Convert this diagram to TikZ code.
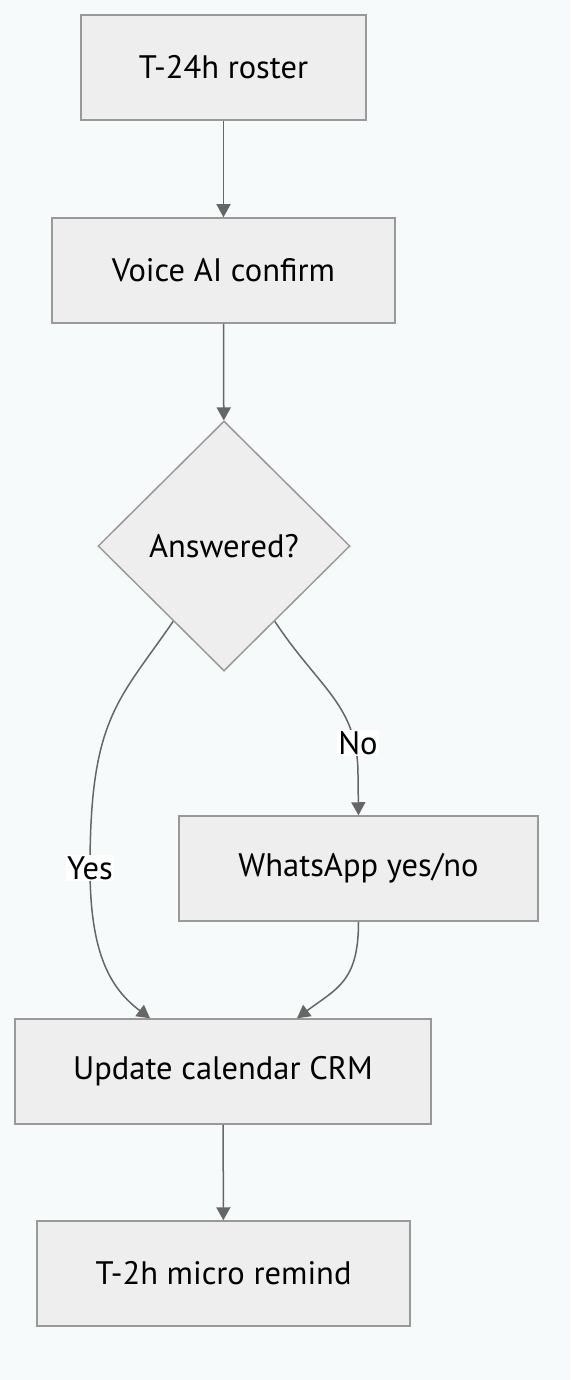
\documentclass[tikz,border=0pt]{standalone}
\usepackage{fontspec}
\setmainfont{PT Sans}
\usetikzlibrary{arrows.meta,shapes.geometric}
\definecolor{bgpage}{HTML}{F7FAFB}
\definecolor{boxfill}{HTML}{EEEEEE}
\definecolor{boxline}{HTML}{999999}
\definecolor{flowline}{HTML}{666666}

\begin{document}
\begin{tikzpicture}[x=1pt, y=-1pt,
	stepbox/.style = {draw=boxline, fill=boxfill, line width=1.5pt, minimum height=105pt, inner sep=0pt, font=\fontsize{32.5}{38}\selectfont},
	decision/.style = {diamond, draw=boxline, fill=boxfill, line width=1.5pt, minimum width=252pt, minimum height=250pt, inner sep=0pt, font=\fontsize{32.5}{38}\selectfont},
	flow/.style = {draw=flowline, line width=1.5pt, -{Triangle[length=13pt, width=14pt]}},
	lbl/.style = {fill=white, inner sep=1pt, font=\fontsize{32.5}{38}\selectfont}]
	\fill[bgpage] (0,0) rectangle (570,1380);
	\useasboundingbox (0,0) rectangle (570,1380);
	\node[stepbox, minimum width=285pt] (roster) at (223.5,67.5) {T-24h roster};
	\node[stepbox, minimum width=343pt] (voice) at (223.5,270.5) {Voice AI confirm};
	\node[decision] (answered) at (224,546) {Answered?};
	\node[stepbox, minimum width=359pt] (whatsapp) at (358.5,868.5) {WhatsApp yes/no};
	\node[stepbox, minimum width=416pt] (update) at (223,1071.5) {Update calendar CRM};
	\node[stepbox, minimum width=373pt] (remind) at (223.5,1273.5) {T-2h micro remind};
	\coordinate (yespt) at (90,868);
	\coordinate (nopt) at (358,775);
	\draw[flow] (roster) -- (voice);
	\draw[flow] (voice) -- (answered);
	\draw[flow] (answered.-124) .. controls +(-55,80) and +(0,-150) .. (yespt) .. controls +(0,85) and +(-40,-30) .. ([xshift=-73pt]update.north);
	\draw[flow] (answered.-56) .. controls +(45,68) and +(0,-70) .. (nopt) -- (whatsapp.north);
	\draw[flow] (whatsapp.south) .. controls +(0,60) and +(40,-30) .. ([xshift=74pt]update.north);
	\draw[flow] (update) -- (remind);
	\node[lbl] (yes) at (yespt) {Yes};
	\node[lbl] (no) at (358,743) {No};
\end{tikzpicture}
\end{document}
